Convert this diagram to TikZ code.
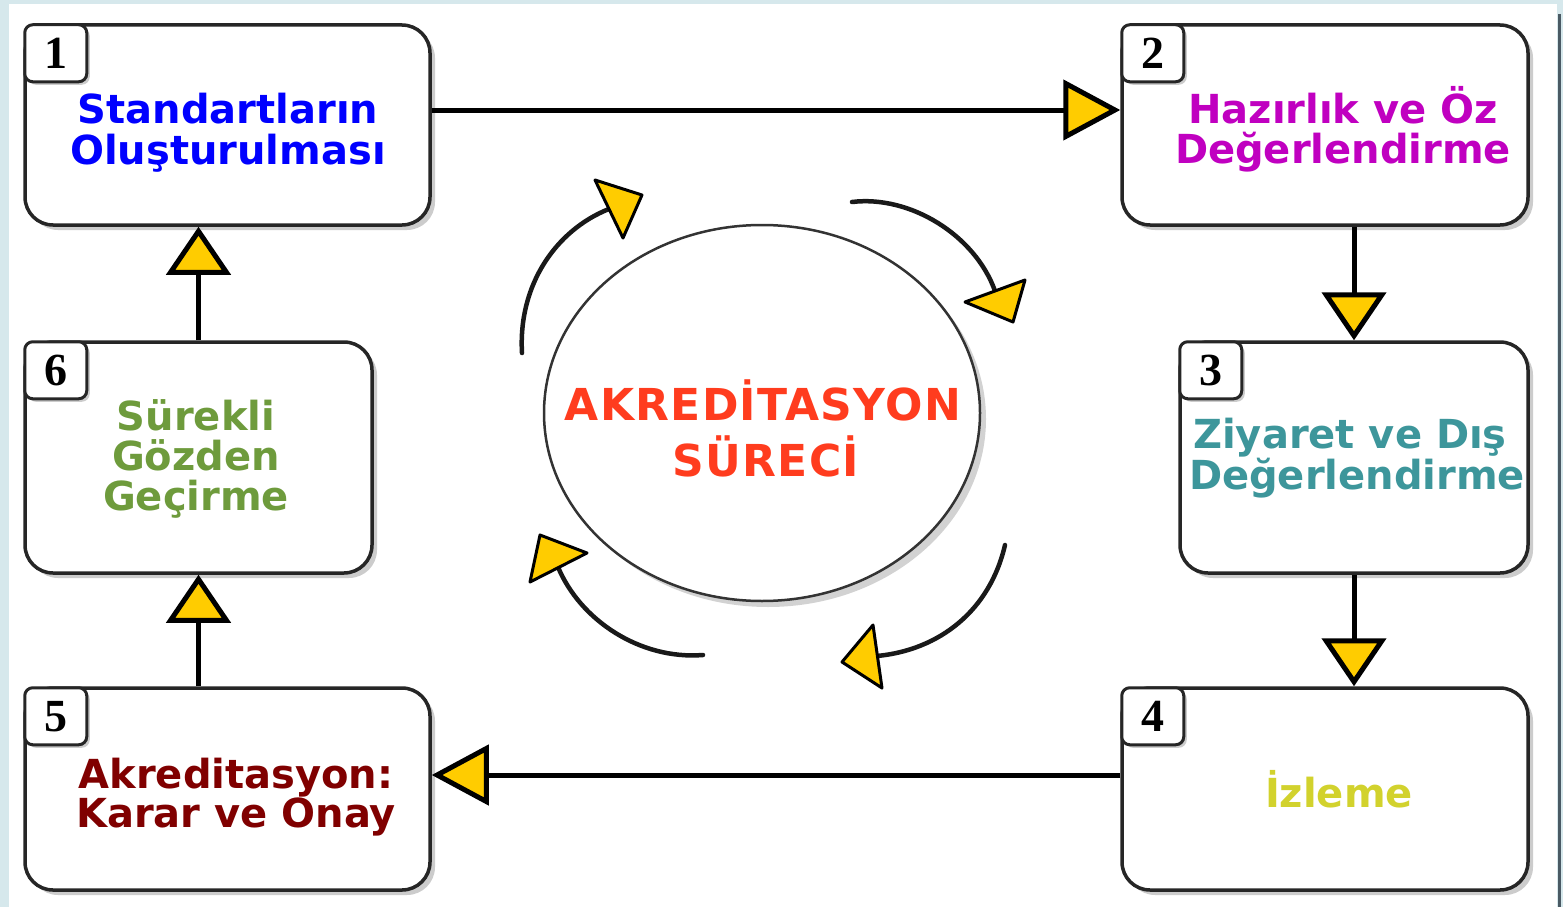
\documentclass[tikz,border=0pt]{standalone}
\usepackage{fontspec}
\setmainfont{Liberation Sans}
\newfontfamily\boxfont{DejaVu Sans}
\newfontfamily\centerfont{DejaVu Sans}[LetterSpace=3]
\newfontfamily\numfont{Liberation Serif}
\usetikzlibrary{arrows.meta,shapes.geometric,shadows}
\definecolor{gold}{RGB}{255,204,0}
\definecolor{bgblue}{RGB}{214,232,236}
\definecolor{edgegray}{RGB}{74,90,100}
\definecolor{cblue}{RGB}{0,0,255}
\definecolor{cmag}{RGB}{192,0,192}
\definecolor{cteal}{RGB}{61,150,155}
\definecolor{cyel}{RGB}{210,210,45}
\definecolor{cdred}{RGB}{128,0,0}
\definecolor{cgreen}{RGB}{110,155,60}
\definecolor{corange}{RGB}{255,60,30}
\tikzset{
  box/.style={draw=black!85, line width=3.5pt, rounded corners=28pt, fill=white, inner sep=0pt,
    drop shadow={shadow xshift=5pt, shadow yshift=-5pt, opacity=0.4}},
  tagbox/.style={draw=black!85, line width=3pt, rounded corners=8pt, fill=white,
    minimum width=62pt, minimum height=57pt, anchor=north west, inner sep=0pt,
    font=\numfont\bfseries\fontsize{46}{46}\selectfont,
    drop shadow={shadow xshift=3pt, shadow yshift=-3pt, opacity=0.4}},
  lbl/.style={anchor=base, inner sep=0pt, font=\boxfont\bfseries\fontsize{40}{40}\selectfont},
  clbl/.style={anchor=base, inner sep=0pt, text=corange, font=\centerfont\bfseries\fontsize{44}{44}\selectfont},
  conn/.style={line width=5pt, draw=black},
  harrow/.style={-{Triangle[length=57pt,width=60pt,fill=gold]}},
  varrow/.style={-{Triangle[length=48pt,width=64pt,fill=gold]}},
  arcline/.style={line width=4.5pt, draw=black!90, line cap=round},
  tri/.style={fill=gold, draw=black, line width=3pt, line join=round},
}
\begin{document}
\begin{tikzpicture}[x=1pt,y=-1pt]
\useasboundingbox (0,0) rectangle (1563,907);
% background
\fill[bgblue] (0,0) rectangle (1563,907);
\fill[white] (9,4) rectangle (1557,907);
\draw[edgegray, line width=3pt] (1559,14) -- (1559,907);

% boxes
\node[box, minimum width=405pt, minimum height=200pt] (b1) at (227.5,125) {};
\node[box, minimum width=406pt, minimum height=200pt] (b2) at (1325,125) {};
\node[box, minimum width=348pt, minimum height=231pt] (b3) at (1354,457.5) {};
\node[box, minimum width=406pt, minimum height=202pt] (b4) at (1325,789) {};
\node[box, minimum width=405pt, minimum height=202pt] (b5) at (227.5,789) {};
\node[box, minimum width=347pt, minimum height=231pt] (b6) at (198.5,457.5) {};

% number tags
\node[tagbox] (n1) at (b1.north west) {1};
\node[tagbox] (n2) at (b2.north west) {2};
\node[tagbox] (n3) at (b3.north west) {3};
\node[tagbox] (n4) at (b4.north west) {4};
\node[tagbox] (n5) at (b5.north west) {5};
\node[tagbox] (n6) at (b6.north west) {6};

% box texts
\node[lbl, text=cblue] (t1a) at (228,123) {Standartların};
\node[lbl, text=cblue] (t1b) at (228,164) {Oluşturulması};
\node[lbl, text=cmag] (t2a) at (1343,123) {Hazırlık ve Öz};
\node[lbl, text=cmag] (t2b) at (1343,163) {Değerlendirme};
\node[lbl, text=cteal] (t3a) at (1350,448) {Ziyaret ve Dış};
\node[lbl, text=cteal] (t3b) at (1357,489) {Değerlendirme};
\node[lbl, text=cyel] (t4a) at (1339,807) {İzleme};
\node[lbl, text=cdred] (t5a) at (236,788) {Akreditasyon:};
\node[lbl, text=cdred] (t5b) at (236,827) {Karar ve Onay};
\node[lbl, text=cgreen] (t6a) at (196,430) {Sürekli};
\node[lbl, text=cgreen] (t6b) at (196,470) {Gözden};
\node[lbl, text=cgreen] (t6c) at (196,510) {Geçirme};

% connectors
\draw[conn, harrow] ([yshift=15pt]b1.east) -- ([yshift=15pt]b2.west);
\draw[conn, varrow] (b3.north |- b2.south) -- (b3.north);
\draw[conn, varrow] (b3.south) -- (b3.south |- b4.north);
\draw[conn, harrow] ([yshift=14pt]b4.west) -- ([yshift=14pt]b5.east);
\draw[conn, varrow] (b6.south |- b5.north) -- (b6.south);
\draw[conn, varrow] (b6.north) -- (b6.north |- b1.south);

% central ellipse
\node[ellipse, draw=black!80, line width=2.5pt, fill=white, minimum width=436pt, minimum height=376pt,
  drop shadow={shadow xshift=6pt, shadow yshift=-6pt, opacity=0.35}] (ell) at (762,413) {};
\node[clbl] (c1) at (763,420) {AKREDİTASYON};
\node[clbl] (c2) at (766,476) {SÜRECİ};

% circular arrows
\coordinate (a1s) at (522,353); \coordinate (a1e) at (609,209);
\coordinate (a2s) at (852,202); \coordinate (a2e) at (995,291);
\coordinate (a3s) at (1005,545); \coordinate (a3e) at (877,656);
\coordinate (a4s) at (703,655); \coordinate (a4e) at (558,567);
\draw[arcline] (a1s) .. controls (518,285) and (556,230) .. (a1e);
\draw[arcline] (a2s) .. controls (910,195) and (975,235) .. (a2e);
\draw[arcline] (a3s) .. controls (990,610) and (940,650) .. (a3e);
\draw[arcline] (a4s) .. controls (640,660) and (580,620) .. (a4e);
\filldraw[tri] (595,180) -- (642,195) -- (623,238) -- cycle;
\filldraw[tri] (965,302) -- (1025,280) -- (1013,322) -- cycle;
\filldraw[tri] (873,625) -- (842,662) -- (882,688) -- cycle;
\filldraw[tri] (540,535) -- (587,553) -- (530,582) -- cycle;
\end{tikzpicture}
\end{document}
